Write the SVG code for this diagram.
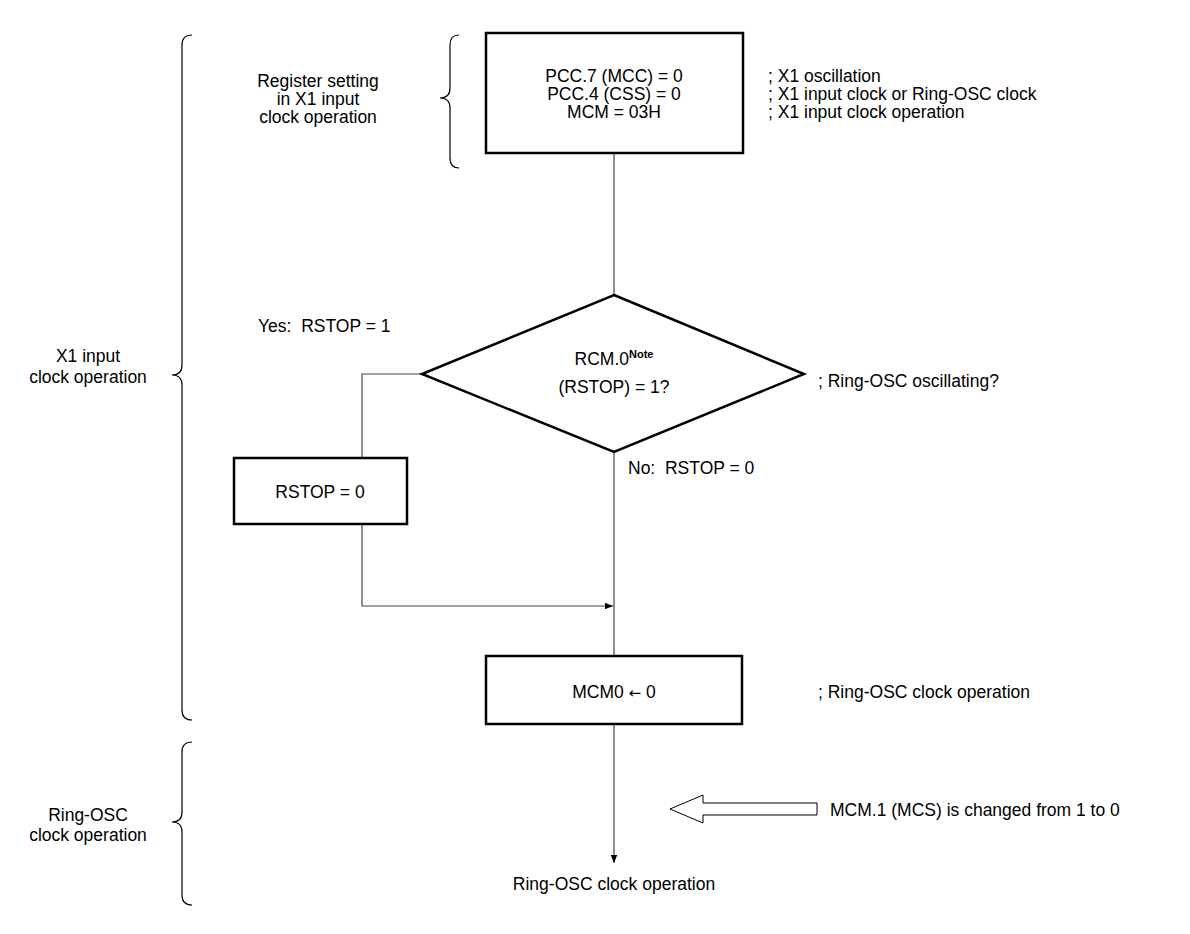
<svg xmlns="http://www.w3.org/2000/svg" width="1190" height="934" viewBox="0 0 1190 934">
<defs>
<style>
text{font-family:"Liberation Sans",Arial,sans-serif;font-size:17.5px;fill:#000}
.c{text-anchor:middle}
.box{fill:#fff;stroke:#000;stroke-width:2.5}
.ln{fill:none;stroke:#444;stroke-width:1.2}
.br{fill:none;stroke:#000;stroke-width:1.2}
</style>
<marker id="ah" viewBox="0 0 10 10" refX="10" refY="5" markerWidth="13" markerHeight="8" markerUnits="userSpaceOnUse" orient="auto">
<path d="M0,1 L10,5 L0,9 Z" fill="#000"/>
</marker>
</defs>
<g id="braces">
<path class="br" d="M192,35 Q182,35 182,45 L182,365 Q182,375 172,375 Q182,375 182,385 L182,710 Q182,720 192,720"/>
<path class="br" d="M459,35 Q450,35 450,45 L450,88 Q450,98 440,98 Q450,98 450,108 L450,158 Q450,168 459,168"/>
<path class="br" d="M192,742 Q182,742 182,752 L182,812 Q182,822 172,822 Q182,822 182,832 L182,895 Q182,905 192,905"/>
</g>
<g id="labels">
<text class="c" x="318" y="87">Register setting</text>
<text class="c" x="318" y="105">in X1 input</text>
<text class="c" x="318" y="123">clock operation</text>
<text class="c" x="88" y="362">X1 input</text>
<text class="c" x="88" y="383">clock operation</text>
<text class="c" x="88" y="821">Ring-OSC</text>
<text class="c" x="88" y="841">clock operation</text>
<text x="768" y="82">; X1 oscillation</text>
<text x="768" y="100">; X1 input clock or Ring-OSC clock</text>
<text x="768" y="118">; X1 input clock operation</text>
<text x="818" y="387">; Ring-OSC oscillating?</text>
<text x="818" y="698">; Ring-OSC clock operation</text>
<text x="258" y="332" xml:space="preserve">Yes:  RSTOP = 1</text>
<text x="628" y="474" xml:space="preserve">No:  RSTOP = 0</text>
<text x="830" y="816">MCM.1 (MCS) is changed from 1 to 0</text>
<text class="c" x="614" y="890">Ring-OSC clock operation</text>
</g>
<g id="connectors">
<line class="ln" x1="614" y1="153" x2="614" y2="295"/>
<line class="ln" x1="614" y1="452" x2="614" y2="656"/>
<polyline class="ln" points="422,374 362,374 362,458"/>
<polyline class="ln" points="362,524 362,606 613,606" marker-end="url(#ah)"/>
<line class="ln" x1="614" y1="724" x2="614" y2="863" marker-end="url(#ah)"/>
<path d="M670,809 L703,795 L703,803 L817,803 L817,815 L703,815 L703,823 Z" fill="#fff" stroke="#000" stroke-width="1"/>
</g>
<g id="n_top">
<rect class="box" x="486" y="33" width="257" height="120"/>
<text class="c" x="614" y="82">PCC.7 (MCC) = 0</text>
<text class="c" x="614" y="100">PCC.4 (CSS) = 0</text>
<text class="c" x="614" y="118">MCM = 03H</text>
</g>
<g id="n_decision">
<polygon points="614,295 804,374 614,452 422,374" fill="#fff" stroke="#000" stroke-width="2.5"/>
<text class="c" x="614" y="365">RCM.0<tspan font-size="11" font-weight="bold" dy="-7">Note</tspan></text>
<text class="c" x="614" y="393">(RSTOP) = 1?</text>
</g>
<g id="n_rstop">
<rect class="box" x="234" y="458" width="173" height="66"/>
<text class="c" x="320" y="498">RSTOP = 0</text>
</g>
<g id="n_mcm0">
<rect class="box" x="486" y="656" width="256" height="68"/>
<text class="c" x="614" y="698">MCM0 <tspan font-family="DejaVu Sans, sans-serif" font-size="15">←</tspan> 0</text>
</g>
</svg>
